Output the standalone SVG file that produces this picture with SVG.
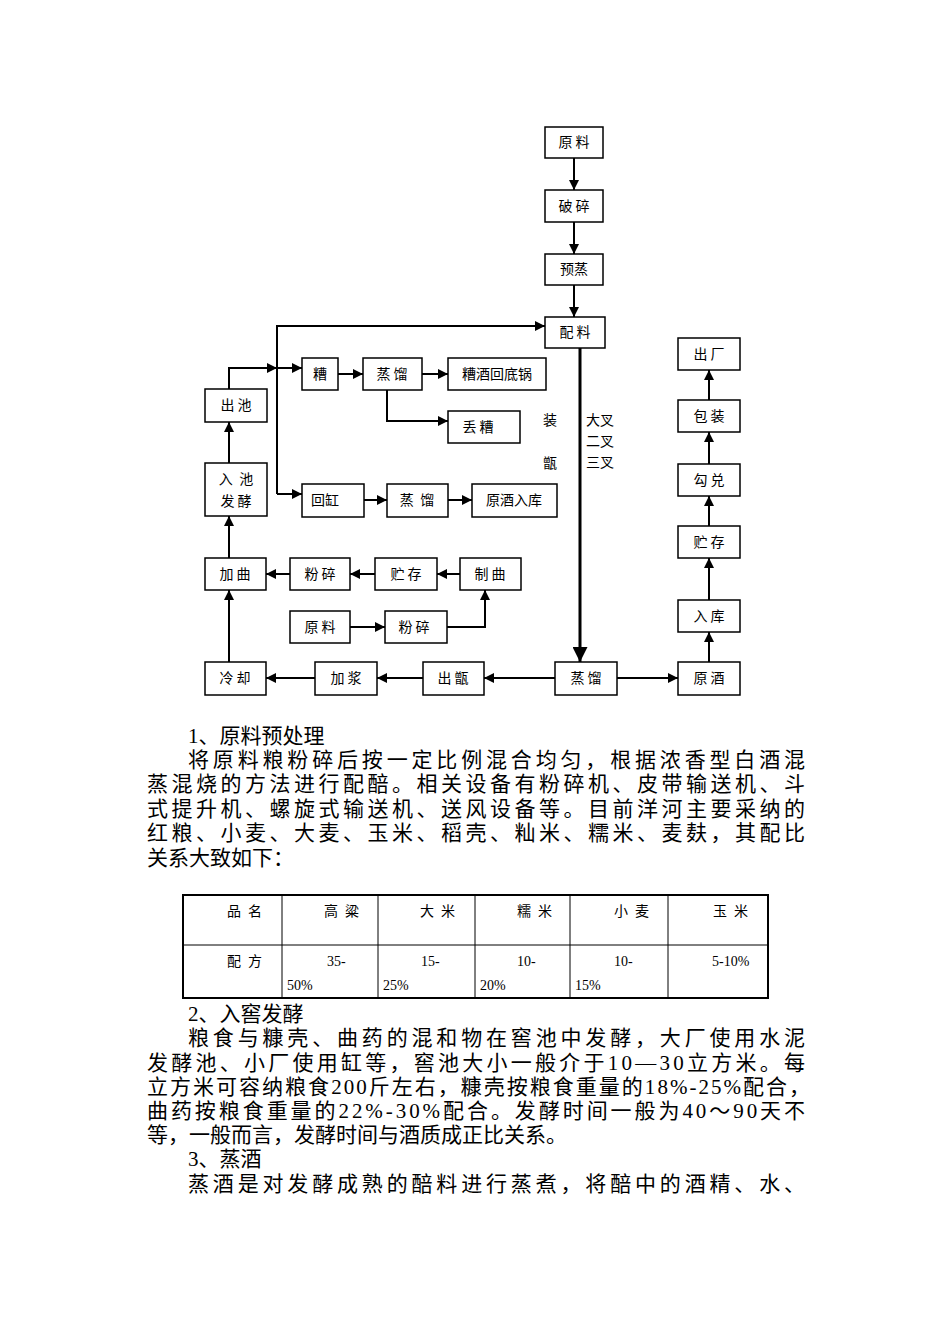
<svg xmlns="http://www.w3.org/2000/svg" width="950" height="1344" viewBox="0 0 950 1344">
<style>
.b{fill:#fff;stroke:#000;stroke-width:1.5}
.t{font-family:"Noto Sans CJK SC","Liberation Sans",sans-serif;font-size:14px;text-anchor:middle;fill:#000;white-space:pre}
.l{fill:none;stroke:#000;stroke-width:2}
.p{font-family:"Liberation Serif","Noto Sans CJK SC",serif;font-size:21px;fill:#000}
.c{font-family:"Liberation Serif","Noto Sans CJK SC",serif;font-size:14px;fill:#000;white-space:pre}
.g{fill:none;stroke:#000;stroke-width:1}
</style>
<defs><marker id="a" viewBox="0 0 10 10" refX="10" refY="5" markerWidth="5" markerHeight="5" orient="auto" markerUnits="strokeWidth"><path d="M0,0L10,5L0,10z"/></marker></defs>
<rect width="950" height="1344" fill="#fff"/>
<g id="connectors">
<line class="l" x1="574" y1="158" x2="574" y2="190" marker-end="url(#a)"/>
<line class="l" x1="574" y1="222" x2="574" y2="254" marker-end="url(#a)"/>
<line class="l" x1="574" y1="285" x2="574" y2="317" marker-end="url(#a)"/>
<line class="l" style="stroke-width:3" x1="580" y1="348" x2="580" y2="662" marker-end="url(#a)"/>
<polyline class="l" points="277,494 277,326 545,326" marker-end="url(#a)"/>
<polyline class="l" points="229,389 229,368 277,368" marker-end="url(#a)"/>
<line class="l" x1="277" y1="368" x2="302" y2="368" marker-end="url(#a)"/>
<line class="l" x1="338" y1="374" x2="363" y2="374" marker-end="url(#a)"/>
<line class="l" x1="422" y1="374" x2="448" y2="374" marker-end="url(#a)"/>
<polyline class="l" points="387,390 387,421 448,421" marker-end="url(#a)"/>
<line class="l" x1="277" y1="494" x2="302" y2="494" marker-end="url(#a)"/>
<line class="l" x1="364" y1="500" x2="387" y2="500" marker-end="url(#a)"/>
<line class="l" x1="448" y1="500" x2="472" y2="500" marker-end="url(#a)"/>
<line class="l" x1="229" y1="463" x2="229" y2="422" marker-end="url(#a)"/>
<line class="l" x1="229" y1="558" x2="229" y2="516" marker-end="url(#a)"/>
<line class="l" x1="229" y1="662" x2="229" y2="590" marker-end="url(#a)"/>
<line class="l" x1="290" y1="574" x2="266" y2="574" marker-end="url(#a)"/>
<line class="l" x1="375" y1="574" x2="350" y2="574" marker-end="url(#a)"/>
<line class="l" x1="460" y1="574" x2="437" y2="574" marker-end="url(#a)"/>
<line class="l" x1="350" y1="627" x2="385" y2="627" marker-end="url(#a)"/>
<polyline class="l" points="447,627 485,627 485,590" marker-end="url(#a)"/>
<line class="l" x1="315" y1="678" x2="266" y2="678" marker-end="url(#a)"/>
<line class="l" x1="423" y1="678" x2="377" y2="678" marker-end="url(#a)"/>
<line class="l" x1="555" y1="678" x2="484" y2="678" marker-end="url(#a)"/>
<line class="l" x1="617" y1="678" x2="678" y2="678" marker-end="url(#a)"/>
<line class="l" x1="709" y1="662" x2="709" y2="632" marker-end="url(#a)"/>
<line class="l" x1="709" y1="600" x2="709" y2="558" marker-end="url(#a)"/>
<line class="l" x1="709" y1="526" x2="709" y2="496" marker-end="url(#a)"/>
<line class="l" x1="709" y1="464" x2="709" y2="432" marker-end="url(#a)"/>
<line class="l" x1="709" y1="400" x2="709" y2="370" marker-end="url(#a)"/>
</g>
<g id="n1"><rect class="b" x="545" y="127" width="58" height="31"/><text class="t" x="574" y="147">原 料</text></g>
<g id="n2"><rect class="b" x="545" y="190" width="58" height="32"/><text class="t" x="574" y="211">破 碎</text></g>
<g id="n3"><rect class="b" x="545" y="254" width="58" height="31"/><text class="t" x="574" y="274">预蒸</text></g>
<g id="n4"><rect class="b" x="545" y="317" width="60" height="31"/><text class="t" x="575" y="337">配 料</text></g>
<g id="n5"><rect class="b" x="205" y="389" width="62" height="33"/><text class="t" x="236" y="410">出 池</text></g>
<g id="n6"><rect class="b" x="302" y="358" width="36" height="32"/><text class="t" x="320" y="379">糟</text></g>
<g id="n7"><rect class="b" x="363" y="358" width="59" height="32"/><text class="t" x="392" y="379">蒸 馏</text></g>
<g id="n8"><rect class="b" x="448" y="358" width="98" height="32"/><text class="t" x="497" y="379">糟酒回底锅</text></g>
<g id="n9"><rect class="b" x="448" y="411" width="72" height="32"/><text class="t" x="478" y="432">丢 糟</text></g>
<g id="n10"><rect class="b" x="205" y="463" width="62" height="53"/><text class="t" x="236" y="484">入  池</text><text class="t" x="236" y="506">发 酵</text></g>
<g id="n11"><rect class="b" x="302" y="484" width="62" height="33"/><text class="t" x="325" y="505">回缸</text></g>
<g id="n12"><rect class="b" x="387" y="484" width="61" height="33"/><text class="t" x="417" y="505">蒸  馏</text></g>
<g id="n13"><rect class="b" x="472" y="484" width="85" height="33"/><text class="t" x="514" y="505">原酒入库</text></g>
<g id="lbl"><text class="t" x="550" y="425">装</text><text class="t" x="550" y="468">甑</text><text class="t" x="600" y="425">大叉</text><text class="t" x="600" y="446">二叉</text><text class="t" x="600" y="467">三叉</text></g>
<g id="n14"><rect class="b" x="205" y="558" width="61" height="32"/><text class="t" x="235" y="579">加 曲</text></g>
<g id="n15"><rect class="b" x="290" y="558" width="60" height="32"/><text class="t" x="320" y="579">粉 碎</text></g>
<g id="n16"><rect class="b" x="375" y="558" width="62" height="32"/><text class="t" x="406" y="579">贮 存</text></g>
<g id="n17"><rect class="b" x="460" y="558" width="61" height="32"/><text class="t" x="490" y="579">制 曲</text></g>
<g id="n18"><rect class="b" x="290" y="611" width="60" height="32"/><text class="t" x="320" y="632">原 料</text></g>
<g id="n19"><rect class="b" x="385" y="611" width="62" height="32"/><text class="t" x="414" y="632">粉 碎</text></g>
<g id="n20"><rect class="b" x="205" y="662" width="61" height="33"/><text class="t" x="235" y="683">冷 却</text></g>
<g id="n21"><rect class="b" x="315" y="662" width="62" height="33"/><text class="t" x="346" y="683">加 浆</text></g>
<g id="n22"><rect class="b" x="423" y="662" width="61" height="33"/><text class="t" x="453" y="683">出 甑</text></g>
<g id="n23"><rect class="b" x="555" y="662" width="62" height="33"/><text class="t" x="586" y="683">蒸 馏</text></g>
<g id="n24"><rect class="b" x="678" y="662" width="62" height="33"/><text class="t" x="709" y="683">原 酒</text></g>
<g id="n25"><rect class="b" x="678" y="600" width="62" height="32"/><text class="t" x="709" y="621">入 库</text></g>
<g id="n26"><rect class="b" x="678" y="526" width="62" height="32"/><text class="t" x="709" y="547">贮 存</text></g>
<g id="n27"><rect class="b" x="678" y="464" width="62" height="32"/><text class="t" x="709" y="485">勾 兑</text></g>
<g id="n28"><rect class="b" x="678" y="400" width="62" height="32"/><text class="t" x="709" y="421">包 装</text></g>
<g id="n29"><rect class="b" x="678" y="338" width="62" height="32"/><text class="t" x="709" y="359">出 厂</text></g>
<g id="text">
<text class="p" x="188" y="743">1、原料预处理</text>
<text class="p" x="188" y="767" textLength="617" lengthAdjust="spacing">将原料粮粉碎后按一定比例混合均匀，根据浓香型白酒混</text>
<text class="p" x="147" y="791" textLength="658" lengthAdjust="spacing">蒸混烧的方法进行配醅。相关设备有粉碎机、皮带输送机、斗</text>
<text class="p" x="147" y="816" textLength="658" lengthAdjust="spacing">式提升机、螺旋式输送机、送风设备等。目前洋河主要采纳的</text>
<text class="p" x="147" y="840" textLength="658" lengthAdjust="spacing">红粮、小麦、大麦、玉米、稻壳、籼米、糯米、麦麸，其配比</text>
<text class="p" x="147" y="865">关系大致如下：</text>
<text class="p" x="188" y="1021">2、入窖发酵</text>
<text class="p" x="188" y="1045" textLength="617" lengthAdjust="spacing">粮食与糠壳、曲药的混和物在窖池中发酵，大厂使用水泥</text>
<text class="p" x="147" y="1070" textLength="658" lengthAdjust="spacing">发酵池、小厂使用缸等，窖池大小一般介于10—30立方米。每</text>
<text class="p" x="147" y="1094" textLength="663" lengthAdjust="spacing">立方米可容纳粮食200斤左右，糠壳按粮食重量的18%-25%配合，</text>
<text class="p" x="147" y="1118" textLength="658" lengthAdjust="spacing">曲药按粮食重量的22%-30%配合。发酵时间一般为40～90天不</text>
<text class="p" x="147" y="1142">等，一般而言，发酵时间与酒质成正比关系。</text>
<text class="p" x="188" y="1166">3、蒸酒</text>
<text class="p" x="188" y="1191" textLength="617" lengthAdjust="spacing">蒸酒是对发酵成熟的醅料进行蒸煮，将醅中的酒精、水、</text>
</g>
<g id="table">
<rect x="183" y="895" width="585" height="103" fill="none" stroke="#000" stroke-width="2"/>
<line class="g" x1="183" y1="945" x2="768" y2="945"/>
<line class="g" x1="282" y1="895" x2="282" y2="998"/>
<line class="g" x1="378" y1="895" x2="378" y2="998"/>
<line class="g" x1="475" y1="895" x2="475" y2="998"/>
<line class="g" x1="570" y1="895" x2="570" y2="998"/>
<line class="g" x1="668" y1="895" x2="668" y2="998"/>
<text class="c" x="227" y="916">品  名</text>
<text class="c" x="324" y="916">高  粱</text>
<text class="c" x="420" y="916">大  米</text>
<text class="c" x="517" y="916">糯  米</text>
<text class="c" x="614" y="916">小  麦</text>
<text class="c" x="713" y="916">玉  米</text>
<text class="c" x="227" y="966">配  方</text>
<text class="c" x="327" y="966">35-</text><text class="c" x="287" y="990">50%</text>
<text class="c" x="421" y="966">15-</text><text class="c" x="383" y="990">25%</text>
<text class="c" x="517" y="966">10-</text><text class="c" x="480" y="990">20%</text>
<text class="c" x="614" y="966">10-</text><text class="c" x="575" y="990">15%</text>
<text class="c" x="712" y="966">5-10%</text>
</g>
</svg>
